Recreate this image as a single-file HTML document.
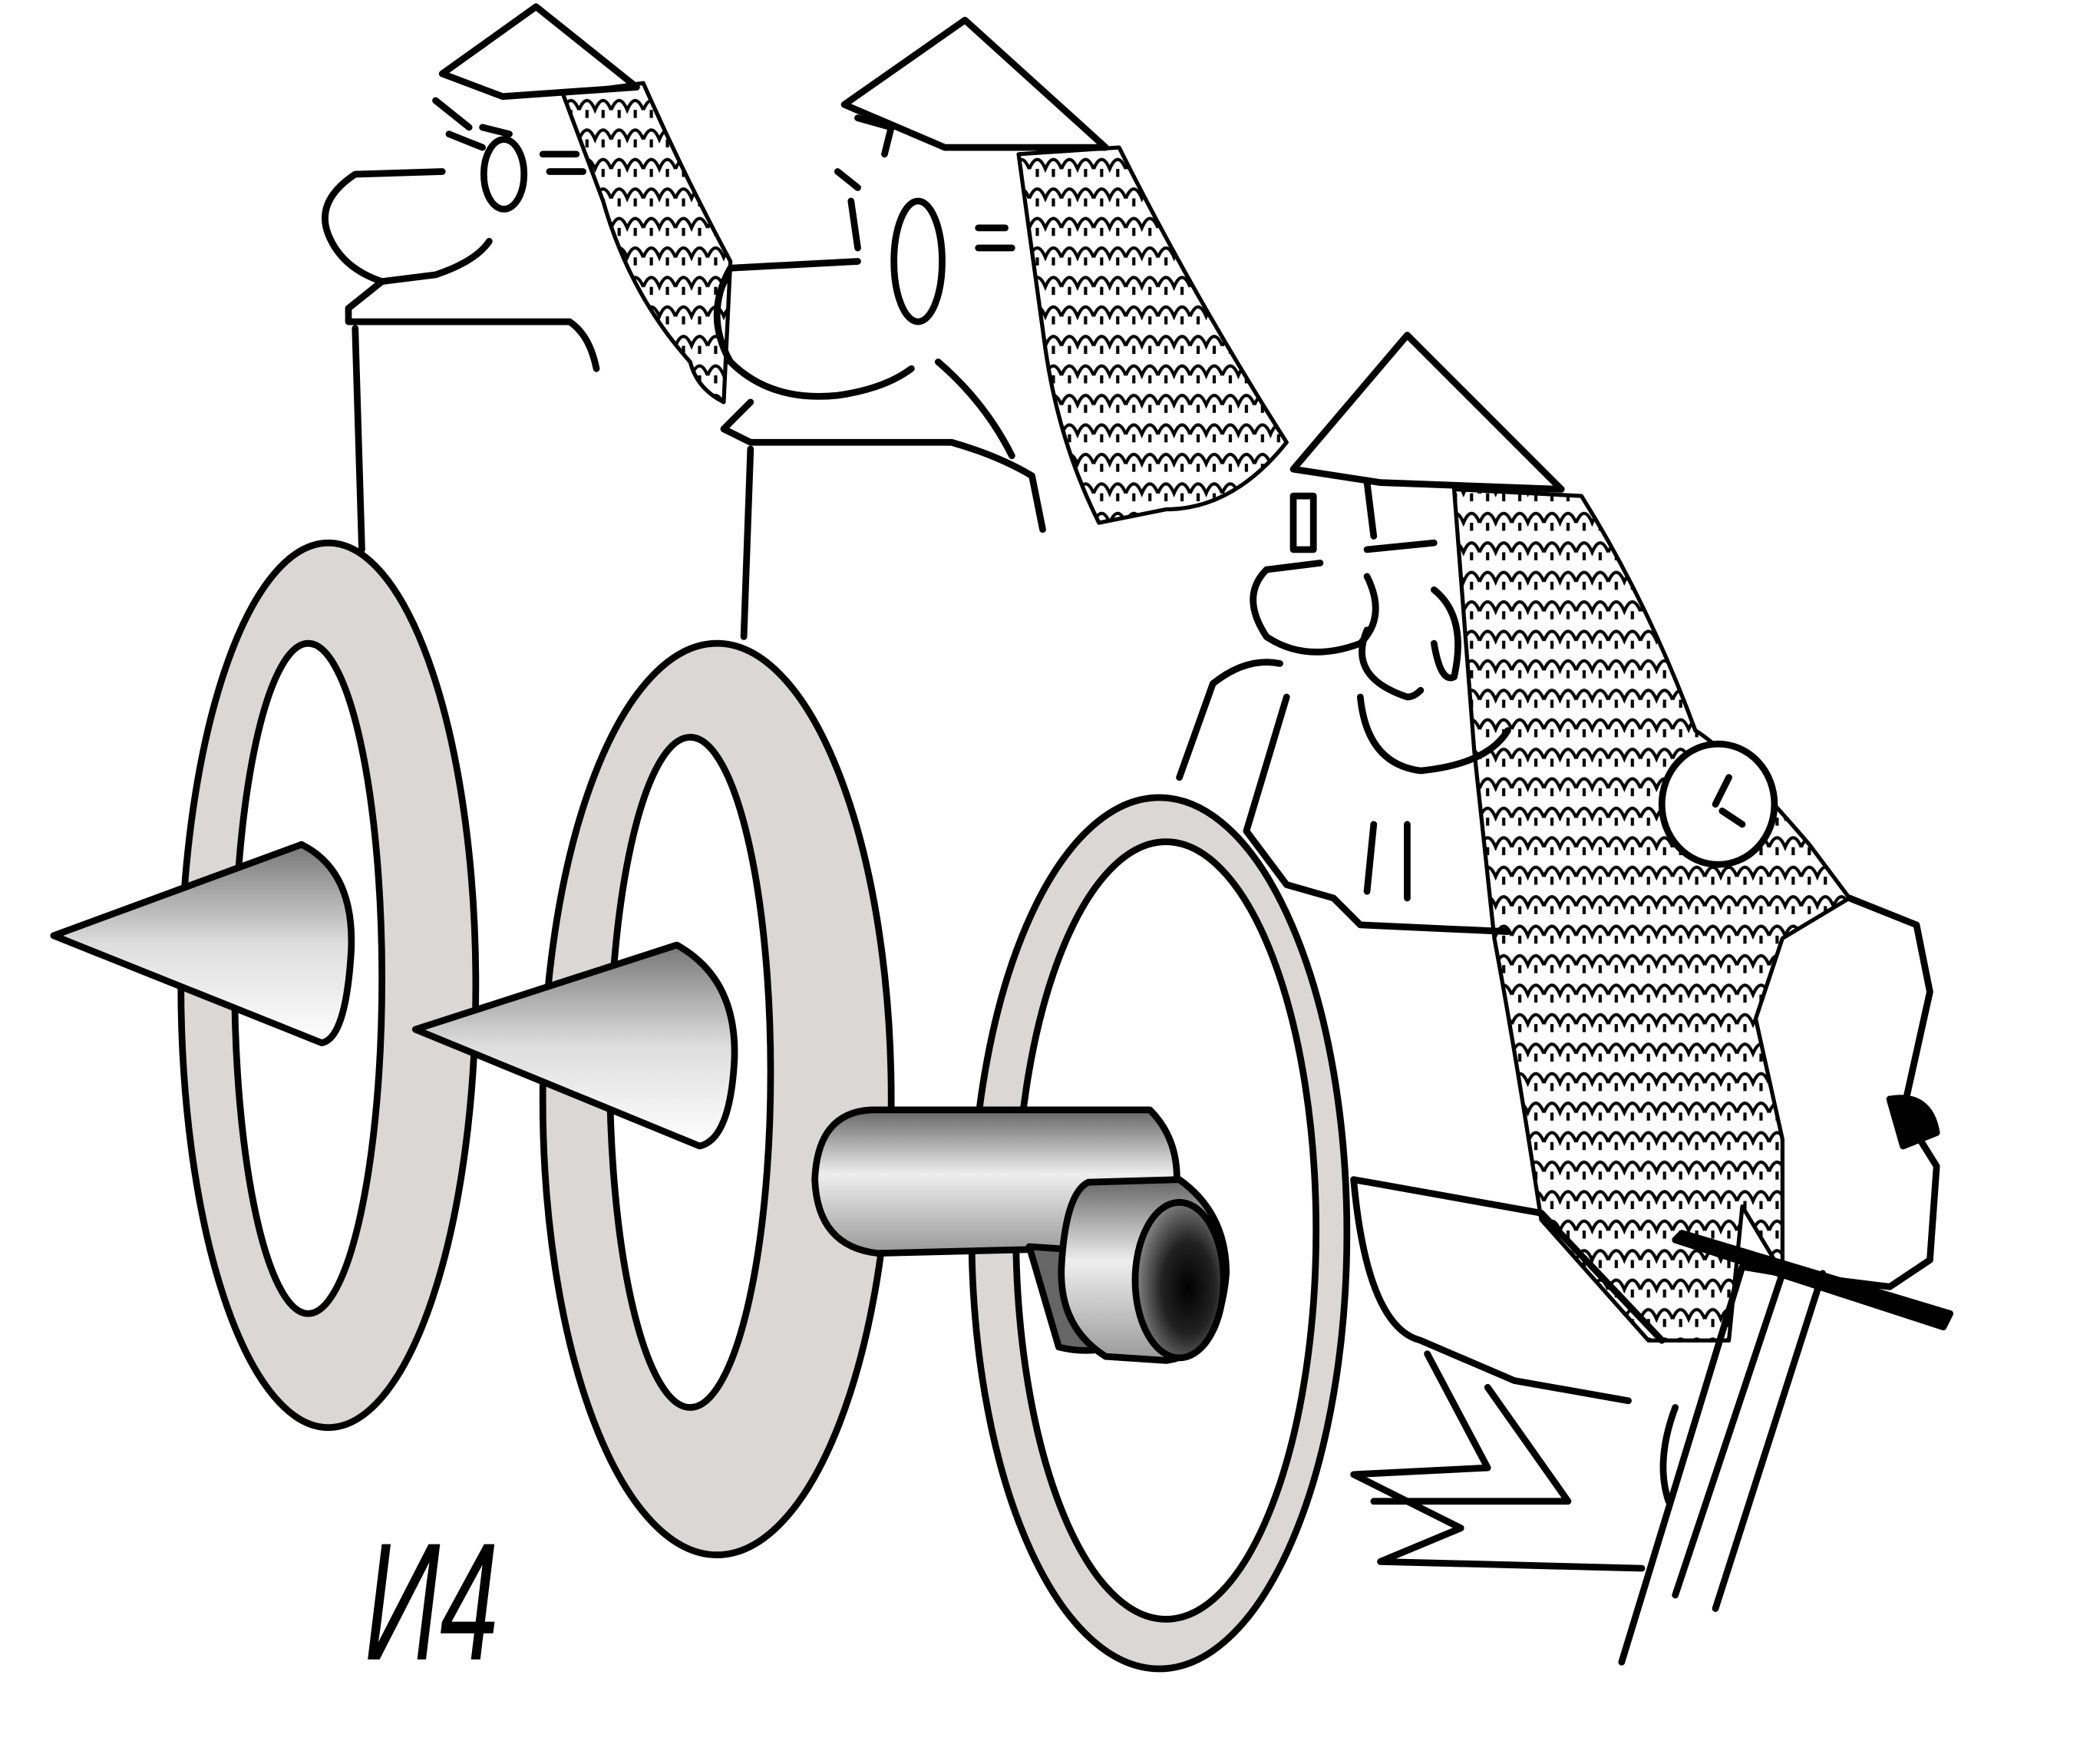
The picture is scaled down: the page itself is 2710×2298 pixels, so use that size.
<!DOCTYPE html>
<html><head><meta charset="utf-8"><style>html,body{margin:0;padding:0;background:#fff}svg{display:block}</style></head>
<body>
<svg width="2710" height="2298" viewBox="0 0 1552 1316" preserveAspectRatio="none" xmlns="http://www.w3.org/2000/svg">
<defs>
<linearGradient id="cg" x1="0" y1="0" x2="0" y2="1"><stop offset="0" stop-color="#777"/><stop offset="0.5" stop-color="#ddd"/><stop offset="1" stop-color="#fff"/></linearGradient>
<linearGradient id="cy" x1="0" y1="0" x2="0" y2="1"><stop offset="0" stop-color="#666"/><stop offset="0.45" stop-color="#eee"/><stop offset="1" stop-color="#999"/></linearGradient>
<radialGradient id="hole" cx="0.6" cy="0.55" r="0.6"><stop offset="0" stop-color="#000"/><stop offset="0.5" stop-color="#222"/><stop offset="1" stop-color="#888"/></radialGradient>
<pattern id="mail" width="24" height="22" patternUnits="userSpaceOnUse"><path d="M0 16 Q6 2 12 16 Q18 2 24 16 M6 16 L6 22 M18 16 L18 22" fill="none" stroke="#000" stroke-width="2.4"/></pattern>
</defs>
<g fill="none" stroke="#000" stroke-width="5" stroke-linejoin="round" stroke-linecap="round">
<!-- figure 1 -->
<path d="M330 55 L400 5 L475 65 L375 72 Z"/>
<path d="M325 75 L350 95 M335 100 L360 110 M360 95 L380 100"/>
<ellipse cx="376" cy="130" rx="15" ry="26"/>
<path d="M405 115 L430 115 M410 128 L435 128"/>
<path d="M330 128 L265 130 Q235 150 245 175 Q255 200 285 210 L325 205 Q355 195 365 180"/>
<path d="M285 210 L260 230 L260 240 L425 240 Q440 250 445 275"/>
<path d="M265 245 L270 410"/>
<path d="M420 70 L480 62 Q510 130 545 195 L540 300 Q520 290 515 270 Q470 220 450 150 Z" fill="url(#mail)" stroke-width="3"/>
<!-- figure 2 -->
<path d="M630 78 L720 15 L825 110 L705 110 Z"/>
<path d="M640 88 L665 95 L660 115 M625 128 L640 140 M635 150 L640 185"/>
<ellipse cx="685" cy="195" rx="18" ry="45"/>
<path d="M730 170 L750 170 M730 185 L755 185"/>
<path d="M640 195 L545 200 Q525 235 545 270 Q575 300 625 295 Q660 290 680 275"/>
<path d="M560 300 L540 320 L560 330 L710 330 Q745 340 770 355 L778 395"/>
<path d="M700 270 Q735 300 755 340"/>
<path d="M560 335 L555 475"/>
<path d="M760 115 L835 110 Q890 220 960 330 Q920 380 870 380 L820 390 Q790 330 780 260 Z" fill="url(#mail)" stroke-width="3"/>
<!-- figure 3 -->
<path d="M965 350 L1050 250 L1165 365 L1030 360 Z"/>
<path d="M1020 360 L1025 400 M965 370 L965 410 L980 410 L980 370 Z M1020 410 L1070 405"/>
<path d="M985 420 L945 425 Q925 445 945 475 Q975 495 1015 480 Q1035 460 1020 430"/>
<path d="M1070 440 Q1095 460 1085 505 Q1075 510 1070 480"/>
<path d="M1020 470 Q1005 505 1050 520 Q1055 520 1060 515"/>
<path d="M955 495 Q930 490 905 510 L880 580"/>
<path d="M1015 520 Q1020 570 1060 575 Q1110 570 1125 545"/>
<path d="M960 520 L930 620 L960 660 L995 670 L1015 690 L1125 695"/>
<path d="M1025 615 L1020 665 M1050 615 L1050 670"/>
<path d="M1085 365 L1180 370 Q1230 450 1265 545 Q1290 560 1350 630 L1380 670 L1330 700 L1310 760 L1330 850 L1330 950 L1300 900 L1290 1000 L1230 1000 L1150 910 Q1130 780 1115 700 L1100 560 Z" fill="url(#mail)" stroke-width="3"/>
<path d="M1380 670 L1430 690 L1440 740 L1420 830 L1445 870 L1440 940 L1410 960 L1330 950"/>
<ellipse cx="1282" cy="600" rx="42" ry="45" fill="#fff"/>
<path d="M1280 600 L1290 580 M1285 605 L1300 615"/>
<path d="M1010 880 L1150 905 L1240 1000 M1010 880 Q1020 990 1060 1000 L1130 1030 L1215 1045"/>
<path d="M1065 1010 L1110 1095 L1010 1100 L1090 1140 L1030 1165 L1225 1170 M1110 1035 L1170 1120 L1025 1120"/>
<path d="M1250 925 L1450 990 L1455 980 L1255 920 Z" fill="#000"/>
<path d="M1250 1050 Q1235 1090 1245 1120 M1210 1240 L1300 945 L1330 950 L1250 1190 M1360 950 L1280 1200"/>
<path d="M1410 820 Q1440 815 1445 845 L1420 855 Z" fill="#000"/>
<!-- wheels -->
<ellipse cx="245" cy="735" rx="110" ry="330" fill="#dbd7d6"/>
<ellipse cx="230" cy="730" rx="55" ry="250" fill="#fff"/>
<ellipse cx="535" cy="820" rx="130" ry="340" fill="#dbd7d6"/>
<ellipse cx="515" cy="800" rx="60" ry="250" fill="#fff"/>
<path d="M40 698 L225 630 Q265 650 262 710 Q258 775 240 778 Z" fill="url(#cg)"/>
<path d="M310 768 L505 705 Q550 730 548 790 Q545 850 522 855 Z" fill="url(#cg)"/>
<ellipse cx="865" cy="920" rx="140" ry="325" fill="#dbd7d6"/>
<ellipse cx="870" cy="918" rx="112" ry="290" fill="#fff"/>
<path d="M650 828 L858 828 Q880 850 878 885 Q875 925 855 930 L655 935 Q610 930 608 880 Q610 830 650 828 Z" fill="url(#cy)"/>
<path d="M768 930 L790 1005 Q810 1010 830 1005 L840 935 Z" fill="#666"/>
<path d="M812 882 L880 880 Q915 905 915 950 Q910 1010 870 1015 L825 1012 Q790 990 792 945 Q795 890 812 882 Z" fill="url(#cy)"/>
<ellipse cx="880" cy="955" rx="33" ry="58" fill="url(#hole)"/>
</g>
<text x="272" y="1238" font-family="Liberation Sans, sans-serif" font-style="italic" font-size="125" fill="#000" textLength="100" lengthAdjust="spacingAndGlyphs">И4</text>
</svg>
</body></html>
